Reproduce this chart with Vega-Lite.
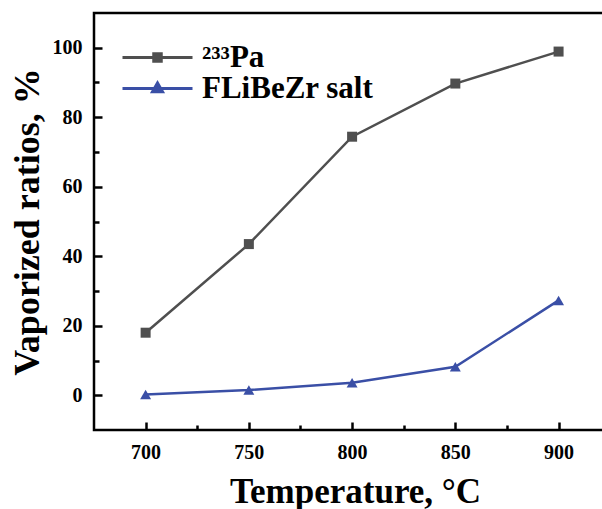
{
  "$schema": "https://vega.github.io/schema/vega-lite/v6.json",
  "autosize": "none",
  "width": 510,
  "height": 417,
  "padding": {"left": 94, "top": 13, "right": 0, "bottom": 79},
  "background": "white",
  "config": {
    "view": {"stroke": "black", "strokeWidth": 2.5},
    "font": "Liberation Serif",
    "axis": {
      "domain": false,
      "grid": false,
      "labelFont": "Liberation Serif",
      "labelFontWeight": "bold",
      "labelFontSize": 20,
      "labelColor": "black",
      "tickColor": "black",
      "tickWidth": 2.5,
      "titleFont": "Liberation Serif",
      "titleFontWeight": "bold",
      "titleColor": "black"
    }
  },
  "data": {
    "values": [
      {"T": 700, "v": 18.0, "s": "Pa"},
      {"T": 750, "v": 43.5, "s": "Pa"},
      {"T": 800, "v": 74.4, "s": "Pa"},
      {"T": 850, "v": 89.7, "s": "Pa"},
      {"T": 900, "v": 98.9, "s": "Pa"},
      {"T": 700, "v": 0.2, "s": "salt"},
      {"T": 750, "v": 1.5, "s": "salt"},
      {"T": 800, "v": 3.6, "s": "salt"},
      {"T": 850, "v": 8.2, "s": "salt"},
      {"T": 900, "v": 27.3, "s": "salt"}
    ]
  },
  "resolve": {"axis": {"x": "independent", "y": "independent"}},
  "layer": [
    {
      "mark": {"type": "line", "strokeWidth": 2.5},
      "encoding": {
        "x": {
          "field": "T", "type": "quantitative",
          "scale": {"domain": [675, 922], "nice": false, "zero": false},
          "axis": {
            "orient": "bottom",
            "values": [700, 750, 800, 850, 900],
            "ticks": false,
            "labelPadding": 12,
            "title": "Temperature, °C",
            "titleFontSize": 35,
            "titlePadding": 12,
            "titleX": 261,
            "titleAlign": "center"
          }
        },
        "y": {
          "field": "v", "type": "quantitative",
          "scale": {"domain": [-10, 110], "nice": false, "zero": false},
          "axis": {
            "orient": "left",
            "values": [0, 20, 40, 60, 80, 100],
            "ticks": false,
            "labelPadding": 12,
            "title": "Vaporized ratios, %",
            "titleFontSize": 36,
            "titlePadding": 6
          }
        },
        "color": {
          "field": "s", "type": "nominal",
          "scale": {"domain": ["Pa", "salt"], "range": ["#4f4f4f", "#3a4fa6"]},
          "legend": {
            "orient": "none",
            "legendX": 48,
            "legendY": 29,
            "padding": 0,
            "title": null,
            "labelExpr": "datum.value === 'Pa' ? '²³³Pa' : 'FLiBeZr salt'",
            "labelFont": "Liberation Serif",
            "labelFontWeight": "bold",
            "labelFontSize": 31,
            "labelColor": "black",
            "labelLimit": 400,
            "labelOffset": 29,
            "rowPadding": -3,
            "symbolSize": 100,
            "symbolStrokeWidth": 3,
            "encode": {
              "symbols": {
                "update": {
                  "shape": {"signal": "datum.value === 'Pa' ? 'M-7,0H7M-0.75,-0.75H0.75V0.75H-0.75Z' : 'M-7,0H7M0,-1.1L1.0,0.65H-1.0Z'"},
                  "fill": {"signal": "datum.value === 'Pa' ? '#4f4f4f' : '#3a4fa6'"},
                  "stroke": {"signal": "datum.value === 'Pa' ? '#4f4f4f' : '#3a4fa6'"},
                  "strokeWidth": {"value": 3},
                  "opacity": {"value": 1}
                }
              }
            }
          }
        }
      }
    },
    {
      "transform": [{"filter": "datum.s === 'Pa'"}],
      "mark": {"type": "point", "filled": true, "opacity": 1, "shape": "square", "color": "#4f4f4f", "size": 100},
      "encoding": {
        "x": {
          "field": "T", "type": "quantitative",
          "axis": {"orient": "bottom", "values": [700, 750, 800, 850, 900], "labels": false, "title": null, "offset": -8, "tickSize": 8}
        },
        "y": {
          "field": "v", "type": "quantitative",
          "axis": {"orient": "left", "values": [0, 20, 40, 60, 80, 100], "labels": false, "title": null, "offset": -8, "tickSize": 8}
        }
      }
    },
    {
      "transform": [{"filter": "datum.s === 'salt'"}],
      "mark": {"type": "point", "filled": true, "opacity": 1, "shape": "triangle-up", "color": "#3a4fa6", "size": 120},
      "encoding": {
        "x": {
          "field": "T", "type": "quantitative",
          "axis": {"orient": "bottom", "values": [725, 775, 825, 875], "labels": false, "title": null, "offset": -5, "tickSize": 5}
        },
        "y": {
          "field": "v", "type": "quantitative",
          "axis": {"orient": "left", "values": [10, 30, 50, 70, 90], "labels": false, "title": null, "offset": -5, "tickSize": 5}
        }
      }
    }
  ]
}
